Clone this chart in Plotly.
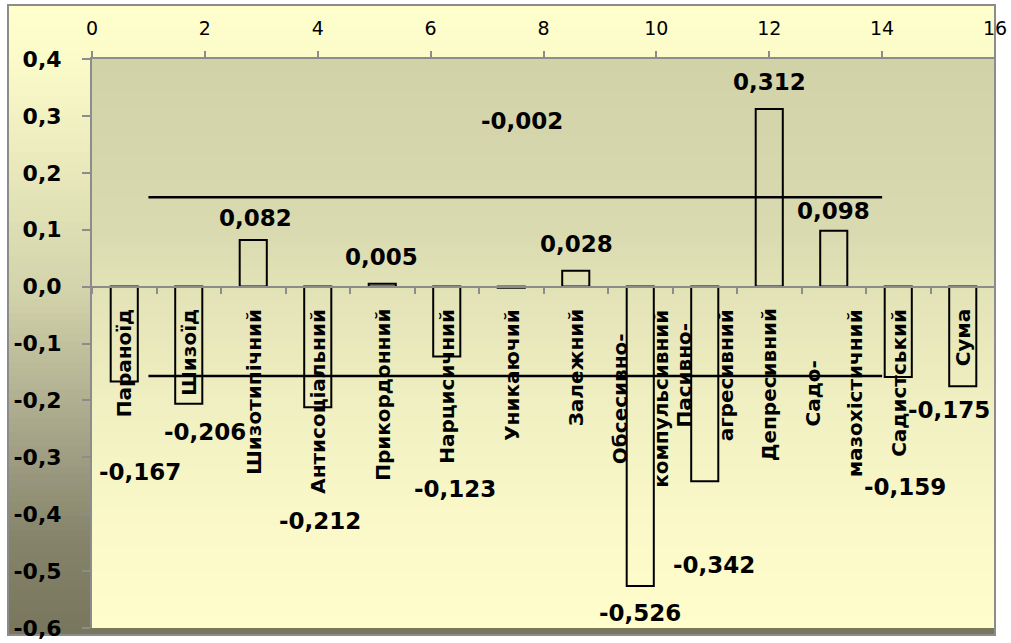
import plotly.graph_objects as go

# ---------------- data ----------------
categories = ["Параноїд", "Шизоїд", "Шизотипічний", "Антисоціальний", "Прикордонний",
              "Нарцисичний", "Уникаючий", "Залежний", "Обсесивно-компульсивний",
              "Пасивно-агресивний", "Депресивний", "Садо-мазохістичний", "Садистський", "Сума"]
values = [-0.167, -0.206, 0.082, -0.212, 0.005, -0.123, -0.002, 0.028,
          -0.526, -0.342, 0.312, 0.098, -0.159, -0.175]
band_x = [1, 14]
band_upper = [0.157, 0.157]
band_lower = [-0.157, -0.157]
y_tick_values = [0.4, 0.3, 0.2, 0.1, 0.0, -0.1, -0.2, -0.3, -0.4, -0.5, -0.6]
top_tick_values = [0, 2, 4, 6, 8, 10, 12, 14, 16]

# ---------------- styling / layout helpers ----------------
# data-label placement (x shift in px, y in data units) – Excel placed them freely
label_place = [(16, -0.326), (16, -0.256), (2, 0.121), (2, -0.412), (-1, 0.052),
               (8, -0.355), (11, 0.291), (1, 0.075), (0, -0.574), (9, -0.489),
               (0, 0.36), (0, 0.133), (7, -0.352), (-14, -0.217)]

W, H = 1011, 643
L, R, T, B = 92, 16, 59, 15
PW, PH = W - L - R, H - T - B
FONT = "DejaVu Sans"


def px_to_paper_x(px):
    return (px - L) / PW


def px_to_paper_y(py):
    return (H - B - py) / PH


def hex2rgb(h):
    h = h.lstrip('#')
    return tuple(int(h[i:i + 2], 16) for i in (0, 2, 4))


def interp(stops, f):
    for (f0, c0), (f1, c1) in zip(stops[:-1], stops[1:]):
        if f0 <= f <= f1:
            t = 0 if f1 == f0 else (f - f0) / (f1 - f0)
            a, b = hex2rgb(c0), hex2rgb(c1)
            return "rgb(%d,%d,%d)" % tuple(round(a[i] + (b[i] - a[i]) * t) for i in range(3))
    return "rgb(%d,%d,%d)" % hex2rgb(stops[-1][1])


def fmt(v):
    return f"{v:.1f}".replace('.', ',')


shapes = []
# chart-area gradient (outer frame)
chart_stops = [(0, "#FFFFCC"), (0.086, "#FBFBCA"), (0.447, "#D4D4AC"),
               (0.71, "#A09F84"), (0.85, "#85846A"), (1, "#77765C")]
cx0, cx1 = px_to_paper_x(8), px_to_paper_x(995)
cy_top, cy_bot = 5, 635
N = 90
for i in range(N):
    p0 = cy_top + (cy_bot - cy_top) * i / N
    p1 = cy_top + (cy_bot - cy_top) * (i + 1) / N
    shapes.append(dict(type="rect", xref="paper", yref="paper", layer="below",
                       x0=cx0, x1=cx1, y0=px_to_paper_y(min(p1 + 1.5, cy_bot)), y1=px_to_paper_y(p0),
                       fillcolor=interp(chart_stops, (i + 0.5) / N), line=dict(width=0)))
# plot-area gradient
plot_stops = [(0, "#D2D2A9"), (0.3, "#DADAB0"), (0.4, "#E2E2B7"), (0.6, "#EFEFC1"),
              (0.8, "#FAF8C8"), (1, "#FFFDCB")]
for i in range(N):
    shapes.append(dict(type="rect", xref="paper", yref="paper", layer="below",
                       x0=0, x1=1, y0=max(1 - (i + 1) / N - 0.004, 0), y1=1 - i / N,
                       fillcolor=interp(plot_stops, (i + 0.5) / N), line=dict(width=0)))
# frame
shapes.append(dict(type="rect", xref="paper", yref="paper", layer="below",
                   x0=cx0, x1=cx1, y0=px_to_paper_y(cy_bot), y1=px_to_paper_y(cy_top),
                   fillcolor="rgba(0,0,0,0)", line=dict(color="#8C8C8C", width=2)))

fig = go.Figure()
fig.add_trace(go.Bar(x=categories, y=values, width=0.42, xaxis="x", yaxis="y",
                     marker=dict(color="rgba(0,0,0,0)", line=dict(color="black", width=2)),
                     showlegend=False, hoverinfo="x+y"))
fig.add_trace(go.Scatter(x=band_x, y=band_upper, xaxis="x2", yaxis="y", mode="lines",
                         line=dict(color="black", width=2.6), showlegend=False))
fig.add_trace(go.Scatter(x=band_x, y=band_lower, xaxis="x2", yaxis="y", mode="lines",
                         line=dict(color="black", width=2.6), showlegend=False))

annotations = []
# category labels (rotated, inside the plot below the zero axis)
CAT_SIZE = 20
for cat in categories:
    if '-' in cat:
        k = cat.index('-') + 1
        l1, l2 = cat[:k], cat[k:]
        text = (f"<span style='font-size:{CAT_SIZE}px'>{l1}</span><br>"
                f"<span style='font-size:{CAT_SIZE}px'>{l2}</span>")
        size, ys = 32, -21
    else:
        text, size, ys = cat, CAT_SIZE, -20
    annotations.append(dict(xref="x", yref="y", x=cat, y=0, yanchor="top", xanchor="center",
                            yshift=ys, textangle=-90, showarrow=False, text=text,
                            font=dict(family=FONT, size=size, color="black", weight="bold")))
# value labels
for cat, v, (dx, ly) in zip(categories, values, label_place):
    annotations.append(dict(xref="x", yref="y", x=cat, y=ly, xshift=dx, showarrow=False,
                            text=f"{v:.3f}".replace('.', ','),
                            font=dict(family=FONT, size=23, color="black", weight="bold")))

fig.update_layout(
    width=W, height=H,
    margin=dict(l=L, r=R, t=T, b=B, pad=0, autoexpand=False),
    paper_bgcolor="white", plot_bgcolor="rgba(0,0,0,0)",
    shapes=shapes, annotations=annotations,
    xaxis=dict(type="category", anchor="free", position=0.6, range=[-0.5, 13.5],
               showline=True, linecolor="#8C8C8C", linewidth=2, automargin=False,
               ticks="outside", tickson="boundaries", ticklen=6, tickcolor="#8C8C8C", tickwidth=2,
               showticklabels=False, showgrid=False, zeroline=False),
    xaxis2=dict(overlaying="x", side="top", anchor="y", range=[0, 16],
                tickvals=top_tick_values, ticktext=[str(t) for t in top_tick_values],
                showline=True, linecolor="#8C8C8C", linewidth=2, automargin=False,
                ticks="outside", ticklen=6, tickcolor="#8C8C8C", tickwidth=2,
                ticklabelstandoff=8,
                tickfont=dict(family=FONT, size=19, color="black"),
                showgrid=False, zeroline=False),
    yaxis=dict(range=[-0.6, 0.4], tickvals=y_tick_values,
               ticktext=[fmt(v) for v in y_tick_values], automargin=False,
               showline=True, linecolor="#8C8C8C", linewidth=2,
               ticks="outside", ticklen=8, tickcolor="#8C8C8C", tickwidth=2,
               ticklabelstandoff=16,
               tickfont=dict(family=FONT, size=22, color="black", weight="bold"),
               showgrid=False, zeroline=False),
    showlegend=False,
)

fig.write_html("out.html")
